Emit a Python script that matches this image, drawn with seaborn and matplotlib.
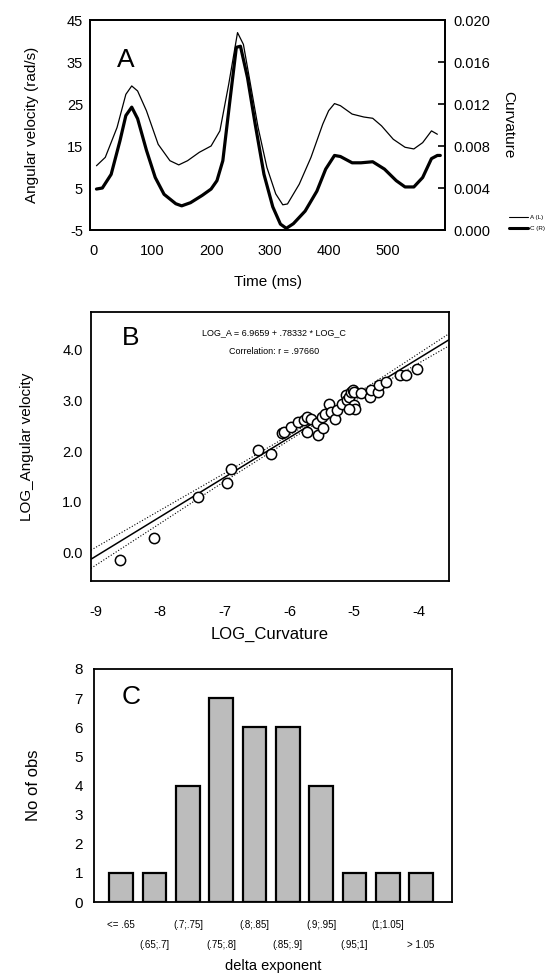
import numpy as np
import pandas as pd
import matplotlib
matplotlib.use("Agg")
import matplotlib.pyplot as plt
import seaborn as sns
from matplotlib.lines import Line2D
from matplotlib.ticker import FormatStrFormatter


# panel A - angular velocity (left axis) and curvature (right axis) vs time
time_a = [5, 20, 40, 55, 65, 75, 90, 110, 130, 145, 160, 180, 200, 215, 230,
          245, 255, 265, 280, 295, 310, 322, 330, 350, 370, 390, 400, 410,
          420, 440, 460, 475, 490, 510, 530, 545, 560, 575, 585]
ang_vel = [10.3, 12.3, 19.4, 27.3, 29.3, 28.1, 23.4, 15.4, 11.5, 10.5, 11.5,
           13.5, 15.0, 18.6, 29.7, 42.0, 39.2, 31.3, 19.4, 9.9, 3.6, 1.0, 1.2,
           5.9, 12.3, 20.2, 23.4, 25.1, 24.6, 22.6, 21.9, 21.6, 19.8, 16.6,
           14.7, 14.3, 15.8, 18.6, 17.8]

time_c = [5, 15, 30, 45, 55, 65, 75, 90, 105, 120, 140, 150, 165, 185, 200,
          210, 220, 232, 243, 250, 262, 275, 290, 305, 318, 328, 340, 360, 380,
          395, 410, 420, 440, 455, 475, 495, 515, 530, 545, 560, 575, 585, 590]
curv = [0.0039, 0.0040, 0.0053, 0.0085, 0.0109, 0.0117, 0.0106, 0.0076,
        0.0050, 0.0034, 0.0025, 0.0023, 0.0026, 0.0033, 0.0039, 0.0047,
        0.0066, 0.0123, 0.0174, 0.0175, 0.0145, 0.0101, 0.0053, 0.0022,
        0.00056, 0.00016, 0.0006, 0.0018, 0.0037, 0.0058, 0.0071, 0.0070,
        0.0064, 0.0064, 0.0065, 0.0058, 0.0047, 0.0041, 0.0041, 0.0050,
        0.0068, 0.0071, 0.0071]

# panel B - log-log scatter with regression
log_c = [-8.62, -8.10, -7.42, -6.97, -6.90, -6.49, -6.29, -6.11, -6.09, -5.98,
         -5.87, -5.78, -5.72, -5.73, -5.66, -5.56, -5.57, -5.49, -5.48, -5.45,
         -5.38, -5.36, -5.30, -5.27, -5.19, -5.13, -5.11, -5.08, -5.05, -5.02,
         -5.00, -5.00, -4.98, -5.08, -4.89, -4.75, -4.73, -4.63, -4.61, -4.50,
         -4.29, -4.19, -4.03]
log_a = [-0.15, 0.29, 1.10, 1.36, 1.64, 2.02, 1.94, 2.35, 2.38, 2.48,
         2.58, 2.61, 2.68, 2.38, 2.64, 2.32, 2.55, 2.68, 2.45, 2.74,
         2.94, 2.77, 2.64, 2.81, 2.94, 3.11, 3.01, 3.06, 3.17, 3.20,
         3.17, 2.91, 2.84, 2.84, 3.14, 3.07, 3.20, 3.17, 3.30, 3.37,
         3.50, 3.51, 3.63]
INTERCEPT = 6.9659
SLOPE = 0.78332
band_x = [-9.07, -8.0, -7.0, -6.0, -5.3, -4.5, -3.53]
band_hw = [0.18, 0.13, 0.08, 0.05, 0.045, 0.07, 0.12]

# panel C - histogram of exponents
bins = ["<= .65", "(.65;.7]", "(.7;.75]", "(.75;.8]", "(.8;.85]",
        "(.85;.9]", "(.9;.95]", "(.95;1]", "(1;1.05]", "> 1.05"]
counts = [1, 1, 4, 7, 6, 6, 4, 1, 1, 1]

W, H = 553, 975


def style_axis(ax):
    for s in ax.spines.values():
        s.set_linewidth(1.3)
        s.set_color("black")
    ax.tick_params(direction="in", length=5, width=1.2, labelsize=10.5,
                   colors="black")


def ftext(fig, x, y, s, **kw):
    # place text by reference-image pixel position
    fig.text(x / W, 1 - y / H, s, ha="center", va="center", color="black",
             **kw)


def main():

    sns.set_style("white")
    plt.rcParams["font.family"] = ["Liberation Sans", "DejaVu Sans"]
    plt.rcParams["axes.unicode_minus"] = False
    plt.rcParams["text.color"] = "black"
    plt.rcParams["axes.labelcolor"] = "black"

    fig = plt.figure(figsize=(5.53, 9.75), dpi=100)

    def box(l, t, r, b):
        return [l / W, 1 - b / H, (r - l) / W, (b - t) / H]

    # ---------------- A ----------------
    ax = fig.add_axes(box(90, 20, 445, 230))
    sns.lineplot(x=time_a, y=ang_vel, ax=ax, color="black", lw=0.9)
    ax.set_xlim(-6, 598)
    ax.set_ylim(-5, 45)
    ax.set_xticks([0, 100, 200, 300, 400, 500])
    ax.set_yticks([-5, 5, 15, 25, 35, 45])
    style_axis(ax)
    ax.tick_params(axis="y", length=0, pad=5)
    ax.tick_params(axis="x", pad=10)
    ax.set_ylabel("Angular velocity (rad/s)", fontsize=11, labelpad=20)
    ax.set_xlabel("Time (ms)", fontsize=11, labelpad=12)
    ftext(fig, 126, 60, "A", fontsize=19)

    ax2 = ax.twinx()
    sns.lineplot(x=time_c, y=curv, ax=ax2, color="black", lw=2.3)
    ax2.set_ylim(0, 0.020)
    ax2.set_yticks([0, 0.004, 0.008, 0.012, 0.016, 0.020])
    ax2.yaxis.set_major_formatter(FormatStrFormatter("%.3f"))
    style_axis(ax2)
    ax2.tick_params(axis="y", pad=6)
    ax2.set_ylabel("Curvature", fontsize=11, rotation=270, labelpad=18)

    handles = [Line2D([], [], color="black", lw=0.8),
               Line2D([], [], color="black", lw=2.2)]
    fig.legend(handles, ["A (L)", "C (R)"], loc="center left",
               bbox_to_anchor=(506 / W, 1 - 223 / H), frameon=False,
               fontsize=4.5, handlelength=3, handletextpad=0.4,
               labelspacing=0.9, borderpad=0)

    # ---------------- B ----------------
    bx = fig.add_axes(box(91, 312, 449, 581))
    sns.scatterplot(x=log_c, y=log_a, ax=bx, s=55, facecolor="white",
                    edgecolor="black", linewidth=1.1, zorder=3)
    line_x = np.array([-9.07, -3.53])
    bx.plot(line_x, INTERCEPT + SLOPE * line_x, color="black", lw=1.1)
    bxx = np.array(band_x)
    fit = INTERCEPT + SLOPE * bxx
    bx.plot(bxx, fit + np.array(band_hw), color="black", lw=0.8, ls=":")
    bx.plot(bxx, fit - np.array(band_hw), color="black", lw=0.8, ls=":")
    bx.set_xlim(-9.07, -3.53)
    bx.set_ylim(-0.57, 4.75)
    bx.set_xticks([-9, -8, -7, -6, -5, -4])
    bx.set_yticks([0, 1, 2, 3, 4])
    bx.yaxis.set_major_formatter(FormatStrFormatter("%.1f"))
    style_axis(bx)
    bx.tick_params(axis="x", pad=17)
    bx.tick_params(axis="y", pad=6)
    bx.set_xlabel("LOG_Curvature", fontsize=12, labelpad=6)
    bx.set_ylabel("LOG_Angular velocity", fontsize=11, labelpad=20)
    ftext(fig, 131, 338, "B", fontsize=19)
    ftext(fig, 274, 333, "LOG_A = 6.9659 + .78332 * LOG_C", fontsize=6.5)
    ftext(fig, 274, 351, "Correlation: r = .97660", fontsize=6.5)

    # ---------------- C ----------------
    cx = fig.add_axes(box(94, 669, 452, 902))
    df = pd.DataFrame({"bin": bins, "n": counts})
    sns.barplot(data=df, x="bin", y="n", ax=cx, color="#bcbcbc",
                saturation=1, width=0.71, edgecolor="black", linewidth=1.6)
    cx.set_xlim(-0.82, 9.93)
    cx.set_ylim(0, 8)
    cx.set_yticks(range(9))
    style_axis(cx)
    cx.tick_params(axis="x", length=0, labelsize=7)
    cx.tick_params(axis="y", labelsize=11, pad=8)
    for i, t in enumerate(cx.xaxis.get_major_ticks()):
        t.set_pad(13 if i % 2 == 0 else 27)
    cx.set_xlabel("")
    ftext(fig, 273, 966, "delta exponent", fontsize=10.5)
    cx.set_ylabel("No of obs", fontsize=12, labelpad=24)
    ftext(fig, 131, 697, "C", fontsize=19)

    fig.savefig("out.png", dpi=100)


if __name__ == "__main__":
    main()
